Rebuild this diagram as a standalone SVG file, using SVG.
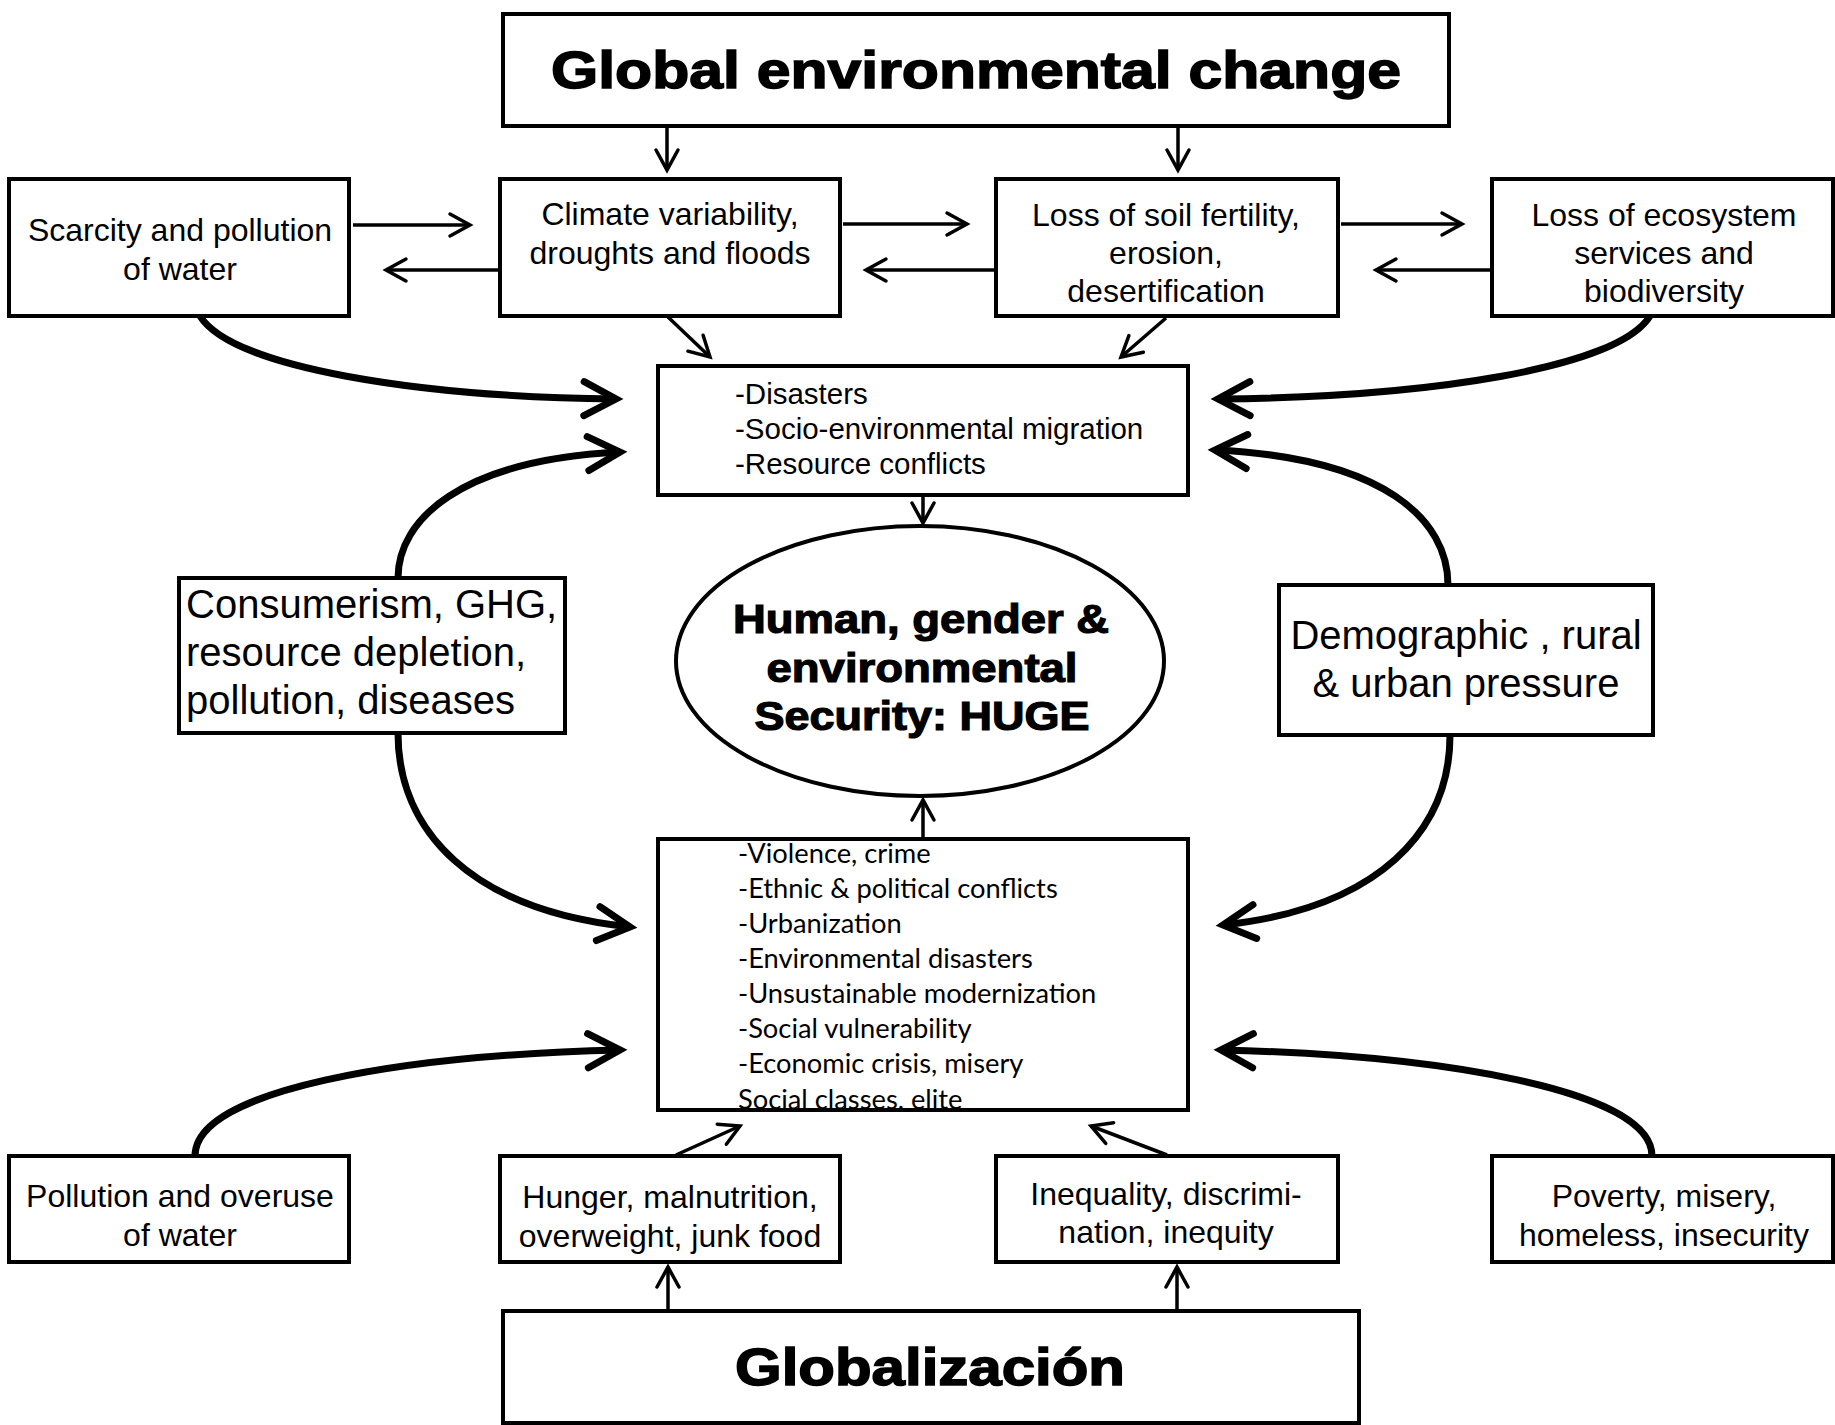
<svg xmlns="http://www.w3.org/2000/svg" width="1835" height="1425" viewBox="0 0 1835 1425">
<style>
.box{fill:#fff;stroke:#000;stroke-width:4}
.thin{fill:none;stroke:#000;stroke-width:3.5;marker-end:url(#ah)}
.thick{fill:none;stroke:#000;stroke-width:7;marker-end:url(#ahk)}
.c32{font-family:"Liberation Sans",Arial,sans-serif;font-size:32px;text-anchor:middle;fill:#000}
.l40{font-family:"Liberation Sans",Arial,sans-serif;font-size:40px;fill:#000}
.c40{font-family:"Liberation Sans",Arial,sans-serif;font-size:40px;text-anchor:middle;fill:#000}
.l29{font-family:"Liberation Sans",Arial,sans-serif;font-size:29.5px;fill:#000}
.cal{font-family:Lato,"Open Sans",sans-serif;font-size:27.3px;fill:#000}
.big{font-family:"Liberation Sans",Arial,sans-serif;font-weight:bold;font-size:52px;text-anchor:middle;fill:#000;stroke:#000;stroke-width:1.5}
.ell{font-family:"Liberation Sans",Arial,sans-serif;font-weight:bold;font-size:40px;text-anchor:middle;fill:#000;stroke:#000;stroke-width:1.2}
</style>
<defs>
<marker id="ah" markerUnits="userSpaceOnUse" markerWidth="50" markerHeight="50" refX="0" refY="0" orient="auto" overflow="visible">
<path d="M-20,-11 L0,0 L-20,11" fill="none" stroke="#000" stroke-width="3.5" stroke-linecap="round"/>
</marker>
<marker id="ahk" markerUnits="userSpaceOnUse" markerWidth="80" markerHeight="80" refX="0" refY="0" orient="auto" overflow="visible">
<path d="M-32,-17 L0,0 L-32,17" fill="none" stroke="#000" stroke-width="7" stroke-linecap="round"/>
</marker>
<clipPath id="vclip"><rect x="658" y="839" width="530" height="273"/></clipPath>
</defs>
<rect width="1835" height="1425" fill="#fff"/>

<g id="connectors">
<path class="thin" d="M667,127 L667,170"/>
<path class="thin" d="M1178,127 L1178,170"/>
<path class="thin" d="M353,225 L470,225"/>
<path class="thin" d="M498,270 L386,270"/>
<path class="thin" d="M843,224 L967,224"/>
<path class="thin" d="M994,270 L866,270"/>
<path class="thin" d="M1341,224 L1462,224"/>
<path class="thin" d="M1491,270 L1376,270"/>
<path class="thin" d="M668,317 L710,357"/>
<path class="thin" d="M1166,318 L1121,357"/>
<path class="thin" d="M923,496 L923,523"/>
<path class="thin" d="M923,838 L923,800"/>
<path class="thin" d="M676,1155 L740,1126"/>
<path class="thin" d="M1167,1155 L1091,1126"/>
<path class="thin" d="M668,1310 L668,1267"/>
<path class="thin" d="M1177,1310 L1177,1267"/>

<path class="thick" d="M200,316 C232,368 420,397 616,399"/>
<path class="thick" d="M1650,316 C1618,368 1430,397 1218,399"/>
<path class="thick" d="M398,578 C398,520 460,460 620,452"/>
<path class="thick" d="M398,733 C398,830 470,910 630,927"/>
<path class="thick" d="M1448,585 C1448,520 1385,458 1215,450"/>
<path class="thick" d="M1450,735 C1450,830 1380,908 1223,925"/>
<path class="thick" d="M195,1156 C195,1090 400,1055 620,1050"/>
<path class="thick" d="M1652,1156 C1652,1090 1440,1055 1221,1050"/>
</g>

<g id="n-global">
<rect class="box" x="503" y="14" width="946" height="112"/>
<text class="big" x="976" y="88" textLength="850" lengthAdjust="spacingAndGlyphs">Global environmental change</text>
</g>
<g id="n-scarcity">
<rect class="box" x="9" y="179" width="340" height="137"/>
<text class="c32" x="180" y="241">Scarcity and pollution</text>
<text class="c32" x="180" y="280">of water</text>
</g>
<g id="n-climate">
<rect class="box" x="500" y="179" width="340" height="137"/>
<text class="c32" x="670" y="225">Climate variability,</text>
<text class="c32" x="670" y="264">droughts and floods</text>
</g>
<g id="n-soil">
<rect class="box" x="996" y="179" width="342" height="137"/>
<text class="c32" x="1166" y="226">Loss of soil fertility,</text>
<text class="c32" x="1166" y="264">erosion,</text>
<text class="c32" x="1166" y="302">desertification</text>
</g>
<g id="n-ecosystem">
<rect class="box" x="1492" y="179" width="341" height="137"/>
<text class="c32" x="1664" y="226">Loss of ecosystem</text>
<text class="c32" x="1664" y="264">services and</text>
<text class="c32" x="1664" y="302">biodiversity</text>
</g>
<g id="n-disasters">
<rect class="box" x="658" y="366" width="530" height="129"/>
<text class="l29" x="735" y="404">-Disasters</text>
<text class="l29" x="735" y="439">-Socio-environmental migration</text>
<text class="l29" x="735" y="474">-Resource conflicts</text>
</g>
<g id="n-consumerism">
<rect class="box" x="179" y="578" width="386" height="155"/>
<text class="l40" x="186" y="618">Consumerism, GHG,</text>
<text class="l40" x="186" y="666">resource depletion,</text>
<text class="l40" x="186" y="714">pollution, diseases</text>
</g>
<g id="n-huge">
<ellipse cx="920" cy="661" rx="244" ry="135" fill="#fff" stroke="#000" stroke-width="4"/>
<text class="ell" x="921" y="633" textLength="376" lengthAdjust="spacingAndGlyphs">Human, gender &amp;</text>
<text class="ell" x="922" y="682" textLength="311" lengthAdjust="spacingAndGlyphs">environmental</text>
<text class="ell" x="922" y="730" textLength="335" lengthAdjust="spacingAndGlyphs">Security: HUGE</text>
</g>
<g id="n-demographic">
<rect class="box" x="1279" y="585" width="374" height="150"/>
<text class="c40" x="1466" y="649">Demographic , rural</text>
<text class="c40" x="1466" y="697">&amp; urban pressure</text>
</g>
<g id="n-violence">
<rect class="box" x="658" y="839" width="530" height="271"/>
<g clip-path="url(#vclip)">
<text class="cal" x="738" y="863">-Violence, crime</text>
<text class="cal" x="738" y="898">-Ethnic &amp; political conflicts</text>
<text class="cal" x="738" y="933">-Urbanization</text>
<text class="cal" x="738" y="968">-Environmental disasters</text>
<text class="cal" x="738" y="1003">-Unsustainable modernization</text>
<text class="cal" x="738" y="1038">-Social vulnerability</text>
<text class="cal" x="738" y="1073">-Economic crisis, misery</text>
<text class="cal" x="738" y="1109">Social classes, elite</text>
</g>
<rect x="658" y="839" width="530" height="271" fill="none" stroke="#000" stroke-width="4"/>
</g>
<g id="n-pollution">
<rect class="box" x="9" y="1156" width="340" height="106"/>
<text class="c32" x="180" y="1207">Pollution and overuse</text>
<text class="c32" x="180" y="1246">of water</text>
</g>
<g id="n-hunger">
<rect class="box" x="500" y="1156" width="340" height="106"/>
<text class="c32" x="670" y="1208">Hunger, malnutrition,</text>
<text class="c32" x="670" y="1247">overweight, junk food</text>
</g>
<g id="n-inequality">
<rect class="box" x="996" y="1156" width="342" height="106"/>
<text class="c32" x="1166" y="1205">Inequality, discrimi-</text>
<text class="c32" x="1166" y="1243">nation, inequity</text>
</g>
<g id="n-poverty">
<rect class="box" x="1492" y="1156" width="341" height="106"/>
<text class="c32" x="1664" y="1207">Poverty, misery,</text>
<text class="c32" x="1664" y="1246">homeless, insecurity</text>
</g>
<g id="n-globalizacion">
<rect class="box" x="503" y="1311" width="856" height="112"/>
<text class="big" x="930" y="1385" textLength="390" lengthAdjust="spacingAndGlyphs">Globalización</text>
</g>
</svg>
